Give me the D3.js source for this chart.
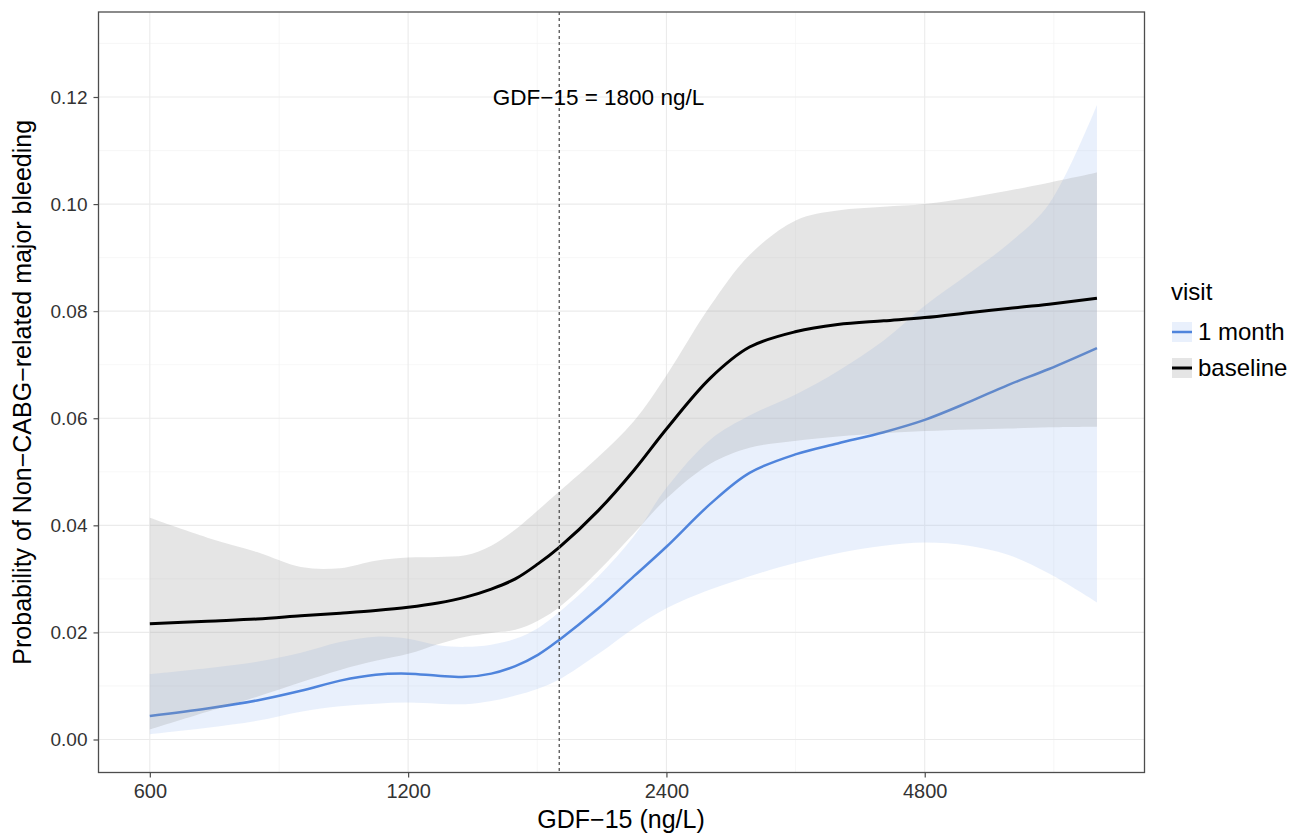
<!DOCTYPE html>
<html>
<head>
<meta charset="utf-8">
<script src="https://cdn.jsdelivr.net/npm/d3@7"></script>
<style>
  body { margin: 0; background: #fff; }
  text { font-family: "Liberation Sans", Arial, Helvetica, sans-serif; }
</style>
</head>
<body>
<svg id="chart" width="1295" height="834"></svg>
<script>
// GDF-15 concentrations (ng/L) at which the smoothed estimates are given
const gdf = [600, 700, 800, 900, 1000, 1100, 1200, 1300, 1400, 1500, 1600, 1700, 1800,
             2000, 2200, 2400, 2700, 3000, 3400, 3800, 4300, 4800, 5400, 6000, 6700, 7620];

// baseline visit: fitted probability and confidence band
const baseFit = [0.0216, 0.0221, 0.0225, 0.0231, 0.0236, 0.0241, 0.0247, 0.0255, 0.0266, 0.0281, 0.0300, 0.0328, 0.0359,
                 0.0428, 0.0503, 0.0580, 0.0675, 0.0733, 0.0762, 0.0775, 0.0782, 0.0788, 0.0797, 0.0805, 0.0813, 0.0824];
const baseHigh = [0.0414, 0.0377, 0.0350, 0.0322, 0.0320, 0.0334, 0.0340, 0.0341, 0.0344, 0.0362, 0.0392, 0.0428, 0.0463,
                  0.0528, 0.0595, 0.0680, 0.0810, 0.0905, 0.0970, 0.0988, 0.0995, 0.1000, 0.1012, 0.1025, 0.1040, 0.1059];
const baseLow = [0.0019, 0.0052, 0.0080, 0.0107, 0.0130, 0.0147, 0.0160, 0.0178, 0.0192, 0.0199, 0.0205, 0.0222, 0.0247,
                 0.0315, 0.0385, 0.0450, 0.0515, 0.0545, 0.0558, 0.0566, 0.0572, 0.0576, 0.0579, 0.0581, 0.0583, 0.0584];

// 1 month visit: fitted probability and confidence band
const monthFit = [0.0044, 0.0058, 0.0073, 0.0091, 0.0110, 0.0121, 0.0123, 0.0119, 0.0117, 0.0123, 0.0137, 0.0158, 0.0186,
                  0.0245, 0.0305, 0.0360, 0.0440, 0.0498, 0.0533, 0.0553, 0.0574, 0.0597, 0.0630, 0.0662, 0.0692, 0.0731];
const monthHigh = [0.0122, 0.0133, 0.0145, 0.0162, 0.0182, 0.0192, 0.0188, 0.0176, 0.0173, 0.0177, 0.0188, 0.0208, 0.0238,
                   0.0305, 0.0380, 0.0470, 0.0560, 0.0605, 0.0645, 0.0688, 0.0745, 0.0810, 0.0870, 0.0925, 0.1000, 0.1185];
const monthLow = [0.0010, 0.0022, 0.0035, 0.0052, 0.0062, 0.0067, 0.0069, 0.0067, 0.0066, 0.0072, 0.0082, 0.0095, 0.0112,
                  0.0160, 0.0208, 0.0245, 0.0280, 0.0305, 0.0330, 0.0348, 0.0362, 0.0368, 0.0362, 0.0345, 0.0310, 0.0256];

const xTicks = [600, 1200, 2400, 4800];
const xMinor = [849, 1697, 3394, 6788];
const yTicks = [0.00, 0.02, 0.04, 0.06, 0.08, 0.10, 0.12];
const yMinor = [0.01, 0.03, 0.05, 0.07, 0.09, 0.11, 0.13];
const cutoff = 1800;
const cutoffLabel = "GDF\u221215 = 1800 ng/L";
const legendTitle = "visit";
const legendLabels = ["1 month", "baseline"];

const panel = { left: 98.5, right: 1144.5, top: 12, bottom: 772.5 };

const svg = d3.select("#chart");

const x = d3.scaleLog().domain([522.8, 8657]).range([panel.left, panel.right]);
const y = d3.scaleLinear().domain([0, 0.12]).range([739.5, 97]);

// grid
const grid = svg.append("g");
grid.selectAll(".ymin").data(yMinor.filter(v => y(v) > panel.top)).join("line")
  .attr("x1", panel.left).attr("x2", panel.right)
  .attr("y1", d => y(d)).attr("y2", d => y(d))
  .attr("stroke", "#f3f3f3").attr("stroke-width", 0.7);
grid.selectAll(".xmin").data(xMinor).join("line")
  .attr("y1", panel.top).attr("y2", panel.bottom)
  .attr("x1", d => x(d)).attr("x2", d => x(d))
  .attr("stroke", "#f3f3f3").attr("stroke-width", 0.7);
grid.selectAll(".ymaj").data(yTicks).join("line")
  .attr("x1", panel.left).attr("x2", panel.right)
  .attr("y1", d => y(d)).attr("y2", d => y(d))
  .attr("stroke", "#ebebeb").attr("stroke-width", 1.1);
grid.selectAll(".xmaj").data(xTicks).join("line")
  .attr("y1", panel.top).attr("y2", panel.bottom)
  .attr("x1", d => x(d)).attr("x2", d => x(d))
  .attr("stroke", "#ebebeb").attr("stroke-width", 1.1);

const rows = gdf.map((g, i) => ({
  g, bf: baseFit[i], bh: baseHigh[i], bl: baseLow[i],
  mf: monthFit[i], mh: monthHigh[i], ml: monthLow[i]
}));

const curve = d3.curveCatmullRom.alpha(0.5);
const band = (lo, hi) => d3.area().x(d => x(d.g)).y0(d => y(d[lo])).y1(d => y(d[hi])).curve(curve);
const line = key => d3.line().x(d => x(d.g)).y(d => y(d[key])).curve(curve);

const monthColor = "#4f84dc";
const monthFill = "#a7c3f3";
const baseFill = "#999999";

svg.append("path").datum(rows).attr("d", band("ml", "mh"))
  .attr("fill", monthFill).attr("fill-opacity", 0.25);
svg.append("path").datum(rows).attr("d", line("mf"))
  .attr("fill", "none").attr("stroke", monthColor).attr("stroke-width", 2.5);
svg.append("path").datum(rows).attr("d", band("bl", "bh"))
  .attr("fill", baseFill).attr("fill-opacity", 0.25);
svg.append("path").datum(rows).attr("d", line("bf"))
  .attr("fill", "none").attr("stroke", "#000").attr("stroke-width", 3);

// cutoff marker
svg.append("line")
  .attr("x1", x(cutoff)).attr("x2", x(cutoff))
  .attr("y1", panel.top).attr("y2", panel.bottom)
  .attr("stroke", "#444").attr("stroke-width", 1.2).attr("stroke-dasharray", "3,3");
svg.append("text").attr("x", x(2000)).attr("y", y(0.12)).attr("dy", "0.36em")
  .attr("text-anchor", "middle").attr("font-size", 22.5).attr("fill", "#000")
  .text(cutoffLabel);

// panel border
svg.append("rect").attr("x", panel.left).attr("y", panel.top)
  .attr("width", panel.right - panel.left).attr("height", panel.bottom - panel.top)
  .attr("fill", "none").attr("stroke", "#4d4d4d").attr("stroke-width", 1.3);

// axes
const xAxis = d3.axisBottom(x).tickValues(xTicks).tickFormat(d3.format("d")).tickSize(5).tickPadding(6);
const gx = svg.append("g").attr("transform", `translate(0,${panel.bottom})`).call(xAxis);
gx.select(".domain").remove();
gx.selectAll("line").attr("stroke", "#4d4d4d").attr("stroke-width", 1.2);
gx.selectAll("text").attr("font-size", 20).attr("fill", "#333")
  .attr("font-family", '"Liberation Sans", Arial, sans-serif');

const yAxis = d3.axisLeft(y).tickValues(yTicks).tickFormat(d3.format(".2f")).tickSize(5).tickPadding(6);
const gy = svg.append("g").attr("transform", `translate(${panel.left},0)`).call(yAxis);
gy.select(".domain").remove();
gy.selectAll("line").attr("stroke", "#4d4d4d").attr("stroke-width", 1.2);
gy.selectAll("text").attr("font-size", 19).attr("fill", "#333")
  .attr("font-family", '"Liberation Sans", Arial, sans-serif');

// axis titles
svg.append("text").attr("x", 621).attr("y", 828)
  .attr("text-anchor", "middle").attr("font-size", 25).text("GDF\u221215 (ng/L)");
svg.append("text")
  .attr("transform", `translate(31,${(panel.top + panel.bottom) / 2}) rotate(-90)`)
  .attr("text-anchor", "middle").attr("font-size", 25)
  .text("Probability of Non\u2212CABG\u2212related major bleeding");

// legend
const lg = svg.append("g").attr("transform", "translate(1171,0)");
lg.append("text").attr("x", 0).attr("y", 300).attr("font-size", 24).text(legendTitle);
const keys = [
  { label: legendLabels[0], fill: monthFill, stroke: monthColor, w: 2.5 },
  { label: legendLabels[1], fill: baseFill, stroke: "#000", w: 3 }
];
keys.forEach((k, i) => {
  const ky = 314 + i * 36;
  lg.append("rect").attr("x", 1).attr("y", ky + 8).attr("width", 20).attr("height", 20)
    .attr("fill", k.fill).attr("fill-opacity", 0.25);
  lg.append("line").attr("x1", 1).attr("x2", 21).attr("y1", ky + 18).attr("y2", ky + 18)
    .attr("stroke", k.stroke).attr("stroke-width", k.w);
  lg.append("text").attr("x", 27).attr("y", ky + 18).attr("dy", "0.35em")
    .attr("font-size", 24).text(k.label);
});
</script>
</body>
</html>
